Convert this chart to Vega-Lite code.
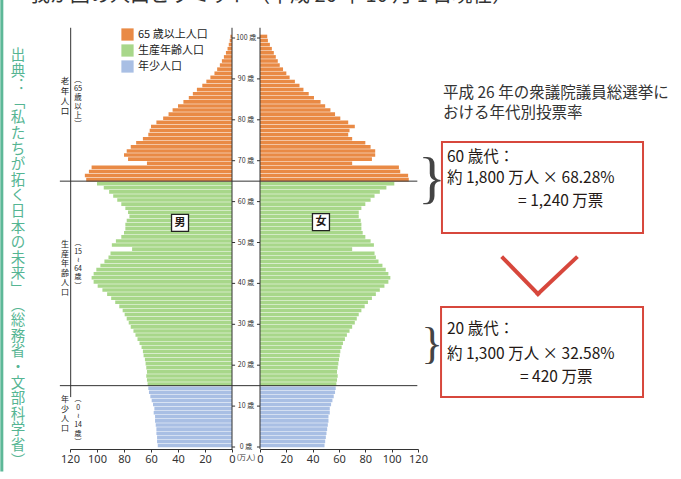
{
"$schema":"https://vega.github.io/schema/vega-lite/v6.json",
"width":681,"height":449,
"autosize":{"type":"none"},
"padding":{"left":0,"top":0,"right":0,"bottom":30},
"background":"white",
"config":{"view":{"stroke":null},"axisY":{"disable":true},"text":{"font":"Noto Sans CJK JP","color":"#231815"}},
"datasets":{
"male":[
{"a":0,"p":55,"g":"年少人口"},{"a":1,"p":55.5,"g":"年少人口"},{"a":2,"p":55.5,"g":"年少人口"},{"a":3,"p":56,"g":"年少人口"},{"a":4,"p":56,"g":"年少人口"},{"a":5,"p":56.5,"g":"年少人口"},{"a":6,"p":57,"g":"年少人口"},{"a":7,"p":57,"g":"年少人口"},{"a":8,"p":58,"g":"年少人口"},{"a":9,"p":57.5,"g":"年少人口"},{"a":10,"p":58.5,"g":"年少人口"},{"a":11,"p":59.5,"g":"年少人口"},{"a":12,"p":60.5,"g":"年少人口"},{"a":13,"p":61.5,"g":"年少人口"},{"a":14,"p":62,"g":"年少人口"},
{"a":15,"p":62.5,"g":"生産年齢人口"},{"a":16,"p":63,"g":"生産年齢人口"},{"a":17,"p":63.5,"g":"生産年齢人口"},{"a":18,"p":63,"g":"生産年齢人口"},{"a":19,"p":63.5,"g":"生産年齢人口"},{"a":20,"p":64,"g":"生産年齢人口"},{"a":21,"p":64.5,"g":"生産年齢人口"},{"a":22,"p":65.5,"g":"生産年齢人口"},{"a":23,"p":66,"g":"生産年齢人口"},{"a":24,"p":67,"g":"生産年齢人口"},{"a":25,"p":68.5,"g":"生産年齢人口"},{"a":26,"p":70,"g":"生産年齢人口"},{"a":27,"p":71.5,"g":"生産年齢人口"},{"a":28,"p":73,"g":"生産年齢人口"},{"a":29,"p":75,"g":"生産年齢人口"},
{"a":30,"p":76.5,"g":"生産年齢人口"},{"a":31,"p":78,"g":"生産年齢人口"},{"a":32,"p":79.5,"g":"生産年齢人口"},{"a":33,"p":81,"g":"生産年齢人口"},{"a":34,"p":83.5,"g":"生産年齢人口"},{"a":35,"p":86.5,"g":"生産年齢人口"},{"a":36,"p":89.5,"g":"生産年齢人口"},{"a":37,"p":92.5,"g":"生産年齢人口"},{"a":38,"p":96,"g":"生産年齢人口"},{"a":39,"p":99.5,"g":"生産年齢人口"},{"a":40,"p":102.5,"g":"生産年齢人口"},{"a":41,"p":104,"g":"生産年齢人口"},{"a":42,"p":102.5,"g":"生産年齢人口"},{"a":43,"p":100.5,"g":"生産年齢人口"},{"a":44,"p":97.5,"g":"生産年齢人口"},{"a":45,"p":94.5,"g":"生産年齢人口"},{"a":46,"p":91.5,"g":"生産年齢人口"},{"a":47,"p":90,"g":"生産年齢人口"},{"a":48,"p":74,"g":"生産年齢人口"},{"a":49,"p":89,"g":"生産年齢人口"},
{"a":50,"p":86,"g":"生産年齢人口"},{"a":51,"p":82,"g":"生産年齢人口"},{"a":52,"p":80,"g":"生産年齢人口"},{"a":53,"p":79,"g":"生産年齢人口"},{"a":54,"p":79,"g":"生産年齢人口"},{"a":55,"p":78,"g":"生産年齢人口"},{"a":56,"p":76,"g":"生産年齢人口"},{"a":57,"p":77,"g":"生産年齢人口"},{"a":58,"p":79,"g":"生産年齢人口"},{"a":59,"p":82,"g":"生産年齢人口"},{"a":60,"p":85,"g":"生産年齢人口"},{"a":61,"p":88,"g":"生産年齢人口"},{"a":62,"p":91,"g":"生産年齢人口"},{"a":63,"p":95,"g":"生産年齢人口"},{"a":64,"p":100,"g":"生産年齢人口"},
{"a":65,"p":108,"g":"65 歳以上人口"},{"a":66,"p":109,"g":"65 歳以上人口"},{"a":67,"p":106,"g":"65 歳以上人口"},{"a":68,"p":104,"g":"65 歳以上人口"},{"a":69,"p":63,"g":"65 歳以上人口"},{"a":70,"p":77,"g":"65 歳以上人口"},{"a":71,"p":80,"g":"65 歳以上人口"},{"a":72,"p":78,"g":"65 歳以上人口"},{"a":73,"p":75,"g":"65 歳以上人口"},{"a":74,"p":71,"g":"65 歳以上人口"},{"a":75,"p":66,"g":"65 歳以上人口"},{"a":76,"p":62,"g":"65 歳以上人口"},{"a":77,"p":61,"g":"65 歳以上人口"},{"a":78,"p":60,"g":"65 歳以上人口"},{"a":79,"p":56,"g":"65 歳以上人口"},
{"a":80,"p":51,"g":"65 歳以上人口"},{"a":81,"p":47,"g":"65 歳以上人口"},{"a":82,"p":44,"g":"65 歳以上人口"},{"a":83,"p":40,"g":"65 歳以上人口"},{"a":84,"p":36,"g":"65 歳以上人口"},{"a":85,"p":32,"g":"65 歳以上人口"},{"a":86,"p":29,"g":"65 歳以上人口"},{"a":87,"p":26,"g":"65 歳以上人口"},{"a":88,"p":22,"g":"65 歳以上人口"},{"a":89,"p":19,"g":"65 歳以上人口"},{"a":90,"p":16,"g":"65 歳以上人口"},{"a":91,"p":13,"g":"65 歳以上人口"},{"a":92,"p":11,"g":"65 歳以上人口"},{"a":93,"p":9,"g":"65 歳以上人口"},{"a":94,"p":7.5,"g":"65 歳以上人口"},{"a":95,"p":6,"g":"65 歳以上人口"},{"a":96,"p":4.5,"g":"65 歳以上人口"},{"a":97,"p":3.3,"g":"65 歳以上人口"},{"a":98,"p":2.4,"g":"65 歳以上人口"},{"a":99,"p":1.7,"g":"65 歳以上人口"},{"a":100,"p":1.2,"g":"65 歳以上人口"}
],
"female":[
{"a":0,"p":49,"g":"年少人口"},{"a":1,"p":49.5,"g":"年少人口"},{"a":2,"p":50,"g":"年少人口"},{"a":3,"p":50.5,"g":"年少人口"},{"a":4,"p":51,"g":"年少人口"},{"a":5,"p":51.5,"g":"年少人口"},{"a":6,"p":52,"g":"年少人口"},{"a":7,"p":52,"g":"年少人口"},{"a":8,"p":53,"g":"年少人口"},{"a":9,"p":53,"g":"年少人口"},{"a":10,"p":54,"g":"年少人口"},{"a":11,"p":55,"g":"年少人口"},{"a":12,"p":56,"g":"年少人口"},{"a":13,"p":57,"g":"年少人口"},{"a":14,"p":57.5,"g":"年少人口"},
{"a":15,"p":58,"g":"生産年齢人口"},{"a":16,"p":58.5,"g":"生産年齢人口"},{"a":17,"p":59,"g":"生産年齢人口"},{"a":18,"p":58.5,"g":"生産年齢人口"},{"a":19,"p":59,"g":"生産年齢人口"},{"a":20,"p":59.5,"g":"生産年齢人口"},{"a":21,"p":60,"g":"生産年齢人口"},{"a":22,"p":60.5,"g":"生産年齢人口"},{"a":23,"p":61,"g":"生産年齢人口"},{"a":24,"p":62,"g":"生産年齢人口"},{"a":25,"p":63,"g":"生産年齢人口"},{"a":26,"p":64.5,"g":"生産年齢人口"},{"a":27,"p":66,"g":"生産年齢人口"},{"a":28,"p":68,"g":"生産年齢人口"},{"a":29,"p":70,"g":"生産年齢人口"},
{"a":30,"p":72,"g":"生産年齢人口"},{"a":31,"p":73.5,"g":"生産年齢人口"},{"a":32,"p":75,"g":"生産年齢人口"},{"a":33,"p":77,"g":"生産年齢人口"},{"a":34,"p":79.5,"g":"生産年齢人口"},{"a":35,"p":82,"g":"生産年齢人口"},{"a":36,"p":85,"g":"生産年齢人口"},{"a":37,"p":88,"g":"生産年齢人口"},{"a":38,"p":91,"g":"生産年齢人口"},{"a":39,"p":94.5,"g":"生産年齢人口"},{"a":40,"p":97.5,"g":"生産年齢人口"},{"a":41,"p":99,"g":"生産年齢人口"},{"a":42,"p":97.5,"g":"生産年齢人口"},{"a":43,"p":95.5,"g":"生産年齢人口"},{"a":44,"p":93,"g":"生産年齢人口"},{"a":45,"p":90,"g":"生産年齢人口"},{"a":46,"p":88,"g":"生産年齢人口"},{"a":47,"p":87,"g":"生産年齢人口"},{"a":48,"p":70,"g":"生産年齢人口"},{"a":49,"p":86.5,"g":"生産年齢人口"},
{"a":50,"p":84,"g":"生産年齢人口"},{"a":51,"p":80,"g":"生産年齢人口"},{"a":52,"p":78,"g":"生産年齢人口"},{"a":53,"p":77,"g":"生産年齢人口"},{"a":54,"p":77,"g":"生産年齢人口"},{"a":55,"p":76.5,"g":"生産年齢人口"},{"a":56,"p":75,"g":"生産年齢人口"},{"a":57,"p":75,"g":"生産年齢人口"},{"a":58,"p":77,"g":"生産年齢人口"},{"a":59,"p":80,"g":"生産年齢人口"},{"a":60,"p":84,"g":"生産年齢人口"},{"a":61,"p":87,"g":"生産年齢人口"},{"a":62,"p":91,"g":"生産年齢人口"},{"a":63,"p":96,"g":"生産年齢人口"},{"a":64,"p":102,"g":"生産年齢人口"},
{"a":65,"p":113,"g":"65 歳以上人口"},{"a":66,"p":112.5,"g":"65 歳以上人口"},{"a":67,"p":106.5,"g":"65 歳以上人口"},{"a":68,"p":105.5,"g":"65 歳以上人口"},{"a":69,"p":70,"g":"65 歳以上人口"},{"a":70,"p":85,"g":"65 歳以上人口"},{"a":71,"p":87.5,"g":"65 歳以上人口"},{"a":72,"p":87.5,"g":"65 歳以上人口"},{"a":73,"p":84,"g":"65 歳以上人口"},{"a":74,"p":80,"g":"65 歳以上人口"},{"a":75,"p":70,"g":"65 歳以上人口"},{"a":76,"p":67,"g":"65 歳以上人口"},{"a":77,"p":68,"g":"65 歳以上人口"},{"a":78,"p":72,"g":"65 歳以上人口"},{"a":79,"p":67,"g":"65 歳以上人口"},
{"a":80,"p":61,"g":"65 歳以上人口"},{"a":81,"p":57,"g":"65 歳以上人口"},{"a":82,"p":53.5,"g":"65 歳以上人口"},{"a":83,"p":49.5,"g":"65 歳以上人口"},{"a":84,"p":46,"g":"65 歳以上人口"},{"a":85,"p":41,"g":"65 歳以上人口"},{"a":86,"p":37,"g":"65 歳以上人口"},{"a":87,"p":33,"g":"65 歳以上人口"},{"a":88,"p":30,"g":"65 歳以上人口"},{"a":89,"p":26.5,"g":"65 歳以上人口"},{"a":90,"p":22.5,"g":"65 歳以上人口"},{"a":91,"p":20,"g":"65 歳以上人口"},{"a":92,"p":17.5,"g":"65 歳以上人口"},{"a":93,"p":15,"g":"65 歳以上人口"},{"a":94,"p":13.5,"g":"65 歳以上人口"},{"a":95,"p":12,"g":"65 歳以上人口"},{"a":96,"p":10.5,"g":"65 歳以上人口"},{"a":97,"p":9,"g":"65 歳以上人口"},{"a":98,"p":7.5,"g":"65 歳以上人口"},{"a":99,"p":6,"g":"65 歳以上人口"},{"a":100,"p":5.5,"g":"65 歳以上人口"}
],
"ticks":[{"a":0,"lab":"0 歳"},{"a":10,"lab":"10 歳"},{"a":20,"lab":"20 歳"},{"a":30,"lab":"30 歳"},{"a":40,"lab":"40 歳"},{"a":50,"lab":"50 歳"},{"a":60,"lab":"60 歳"},{"a":70,"lab":"70 歳"},{"a":80,"lab":"80 歳"},{"a":90,"lab":"90 歳"},{"a":100,"lab":"100 歳"}],
"one":[{"k":1}]
},
"resolve":{"scale":{"x":"independent"},"axis":{"x":"independent"}},
"layer":[
{
"layer":[
{"data":{"name":"male"},"mark":{"type":"bar","binSpacing":0.5},
 "encoding":{
  "y":{"field":"a","type":"quantitative","bin":{"binned":true,"step":1},"scale":{"domain":[0,100],"range":[447,38],"nice":false,"zero":false},"axis":null},
  "x":{"field":"p","type":"quantitative","scale":{"domain":[0,120],"range":[232,70],"nice":false,"zero":true},
   "axis":{"orient":"bottom","title":null,"values":[0,20,40,60,80,100,120],"grid":false,"labelFlush":false,"tickSize":3,"labelPadding":1,"labelFontSize":11,"labelFont":"Liberation Sans Narrow, Noto Sans","labelColor":"#333","tickColor":"#333","domainColor":"#333"}},
  "color":{"field":"g","type":"nominal","scale":{"domain":["65 歳以上人口","生産年齢人口","年少人口"],"range":["#E98A45","#A8D78A","#A9BFE4"]},
   "legend":{"orient":"none","legendX":121,"legendY":28,"title":null,"symbolType":"square","symbolSize":150,"symbolStrokeWidth":0,"symbolOpacity":1,"labelFontSize":11,"labelFont":"Noto Sans CJK JP","labelColor":"#222","rowPadding":3,"padding":0,"labelOffset":4}}
 }},
{"data":{"name":"one"},"mark":{"type":"rule","stroke":"#333","strokeWidth":1},"encoding":{"x":{"datum":0},"y":{"datum":102.5},"y2":{"datum":-0.5}}},
{"data":{"name":"ticks"},"mark":{"type":"rule","stroke":"#333","strokeWidth":1},"encoding":{"x":{"datum":0},"x2":{"datum":-2.3},"y":{"field":"a","type":"quantitative"}}},
{"data":{"name":"one"},"mark":{"type":"rule","stroke":"#333","strokeWidth":1},"encoding":{"x":{"datum":119.5},"y":{"datum":102.5},"y2":{"datum":12.2}}},
{"data":{"name":"one"},"mark":{"type":"rule","stroke":"#5DB898","strokeWidth":3},"encoding":{"x":{"datum":170.5},"y":{"datum":109.5},"y2":{"datum":-6}}},
{"data":{"values":[{"t":"男"}]},"mark":{"type":"point","shape":"square","size":289,"filled":true,"fill":"white","stroke":"#222","strokeWidth":1.3,"opacity":1},"encoding":{"x":{"datum":38.5},"y":{"datum":54.8}}},
{"data":{"values":[{"t":"男"}]},"mark":{"type":"text","fontSize":11,"fontWeight":"bold","baseline":"middle","align":"center"},"encoding":{"x":{"datum":38.5},"y":{"datum":54.8},"text":{"field":"t"}}},
{"data":{"values":[{"t":"老\n年\n人\n口"}]},"mark":{"type":"text","fontSize":8.5,"lineBreak":"\n","lineHeight":10,"baseline":"middle","align":"center","color":"#222"},"encoding":{"x":{"datum":123.7},"y":{"datum":89.5},"text":{"field":"t"}}},
{"data":{"values":[{"t":"︵\n65\n歳\n以\n上\n︶"}]},"mark":{"type":"text","fontSize":7.5,"lineBreak":"\n","lineHeight":9,"baseline":"middle","align":"center","color":"#222"},"encoding":{"x":{"datum":114},"y":{"datum":89.7},"text":{"field":"t"}}},
{"data":{"values":[{"t":"生\n産\n年\n齢\n人\n口"}]},"mark":{"type":"text","fontSize":8,"lineBreak":"\n","lineHeight":9.6,"baseline":"middle","align":"center","color":"#222"},"encoding":{"x":{"datum":123.7},"y":{"datum":49.4},"text":{"field":"t"}}},
{"data":{"values":[{"t":"︵\n15\n≀\n64\n歳\n︶"}]},"mark":{"type":"text","fontSize":7,"lineBreak":"\n","lineHeight":8.6,"baseline":"middle","align":"center","color":"#222"},"encoding":{"x":{"datum":114},"y":{"datum":49.9},"text":{"field":"t"}}},
{"data":{"values":[{"t":"年\n少\n人\n口"}]},"mark":{"type":"text","fontSize":8,"lineBreak":"\n","lineHeight":9.6,"baseline":"middle","align":"center","color":"#222"},"encoding":{"x":{"datum":123.7},"y":{"datum":11.5},"text":{"field":"t"}}},
{"data":{"values":[{"t":"︵\n0\n≀\n14\n歳\n︶"}]},"mark":{"type":"text","fontSize":7,"lineBreak":"\n","lineHeight":8.6,"baseline":"middle","align":"center","color":"#222"},"encoding":{"x":{"datum":114},"y":{"datum":11.7},"text":{"field":"t"}}},
{"data":{"values":[{"t":"出\n典\n︓\n﹁\n私\nた\nち\nが\n拓\nく\n日\n本\nの\n未\n来\n﹂\n︵\n総\n務\n省\n・\n文\n部\n科\n学\n省\n︶"}]},"mark":{"type":"text","fontSize":14.5,"lineBreak":"\n","lineHeight":15.6,"baseline":"middle","align":"center","color":"#55B593"},"encoding":{"x":{"datum":158.5},"y":{"datum":95.6},"text":{"field":"t"}}}
]
},
{
"layer":[
{"data":{"name":"female"},"mark":{"type":"bar","binSpacing":0.5},
 "encoding":{
  "y":{"field":"a","type":"quantitative","bin":{"binned":true,"step":1},"axis":null},
  "x":{"field":"p","type":"quantitative","scale":{"domain":[0,120],"range":[260,418],"nice":false,"zero":true},
   "axis":{"orient":"bottom","title":null,"values":[0,20,40,60,80,100,120],"grid":false,"labelFlush":false,"tickSize":3,"labelPadding":1,"labelFontSize":11,"labelFont":"Liberation Sans Narrow, Noto Sans","labelColor":"#333","tickColor":"#333","domainColor":"#333"}},
  "color":{"field":"g","type":"nominal",
   "legend":{"orient":"none","legendX":121,"legendY":28,"title":null,"symbolType":"square","symbolSize":150,"symbolStrokeWidth":0,"symbolOpacity":1,"labelFontSize":11,"labelFont":"Noto Sans CJK JP","labelColor":"#222","rowPadding":3,"padding":0,"labelOffset":4}}
 }},
{"data":{"name":"one"},"mark":{"type":"rule","stroke":"#333","strokeWidth":1},"encoding":{"x":{"datum":0},"y":{"datum":102.5},"y2":{"datum":-0.5}}},
{"data":{"name":"ticks"},"mark":{"type":"rule","stroke":"#333","strokeWidth":1},"encoding":{"x":{"datum":0},"x2":{"datum":-2.3},"y":{"field":"a","type":"quantitative"}}},
{"data":{"name":"ticks"},"mark":{"type":"text","fontSize":7,"baseline":"middle","align":"center","color":"#333"},"encoding":{"x":{"datum":-10.6},"y":{"field":"a","type":"quantitative"},"text":{"field":"lab"}}},
{"data":{"values":[{"a":65},{"a":15}]},"mark":{"type":"rule","stroke":"#333","strokeWidth":1},"encoding":{"x":{"datum":-152},"x2":{"datum":119.5},"y":{"field":"a","type":"quantitative"}}},
{"data":{"values":[{"t":"(万人)"}]},"mark":{"type":"text","fontSize":7,"baseline":"middle","align":"center","color":"#333"},"encoding":{"x":{"datum":-10.6},"y":{"datum":-2.7},"text":{"field":"t"}}},
{"data":{"values":[{"t":"我が国の人口ピラミッド（平成 26 年 10 月 1 日現在）"}]},"mark":{"type":"text","fontSize":20,"baseline":"alphabetic","align":"left","color":"#333"},"encoding":{"x":{"datum":-174.7},"y":{"datum":108.8},"text":{"field":"t"}}},
{"data":{"values":[{"t":"女"}]},"mark":{"type":"point","shape":"square","size":289,"filled":true,"fill":"white","stroke":"#222","strokeWidth":1.3,"opacity":1},"encoding":{"x":{"datum":46.3},"y":{"datum":55}}},
{"data":{"values":[{"t":"女"}]},"mark":{"type":"text","fontSize":11,"fontWeight":"bold","baseline":"middle","align":"center"},"encoding":{"x":{"datum":46.3},"y":{"datum":55},"text":{"field":"t"}}},
{"data":{"values":[{"t":"平成 26 年の衆議院議員総選挙に\nおける年代別投票率"}]},"mark":{"type":"text","fontSize":15.5,"lineBreak":"\n","lineHeight":20,"baseline":"middle","align":"left","color":"#333"},"encoding":{"x":{"datum":139},"y":{"datum":86.55},"text":{"field":"t"}}},
{"data":{"name":"one"},"mark":{"type":"rect","fill":"transparent","stroke":"#D7473C","strokeWidth":2},"encoding":{"x":{"datum":138.2},"x2":{"datum":290.9},"y":{"datum":74.57},"y2":{"datum":52.32}}},
{"data":{"name":"one"},"mark":{"type":"rect","fill":"transparent","stroke":"#D7473C","strokeWidth":2},"encoding":{"x":{"datum":137.5},"x2":{"datum":290.9},"y":{"datum":34.23},"y2":{"datum":12.22}}},
{"data":{"name":"one"},"mark":{"type":"rule","stroke":"#D7473C","strokeWidth":4,"strokeCap":"square"},"encoding":{"x":{"datum":184.6},"y":{"datum":46.2},"x2":{"datum":211.1},"y2":{"datum":37.4}}},
{"data":{"name":"one"},"mark":{"type":"rule","stroke":"#D7473C","strokeWidth":4,"strokeCap":"square"},"encoding":{"x":{"datum":211.1},"y":{"datum":37.4},"x2":{"datum":240},"y2":{"datum":46.2}}},
{"data":{"values":[{"t":"}"}]},"mark":{"type":"text","fontSize":58,"font":"Liberation Serif","baseline":"middle","align":"center","color":"#444"},"encoding":{"x":{"datum":130.6},"y":{"datum":65.3},"text":{"field":"t"}}},
{"data":{"values":[{"t":"}"}]},"mark":{"type":"text","fontSize":45,"font":"Liberation Serif","baseline":"middle","align":"center","color":"#444"},"encoding":{"x":{"datum":130.6},"y":{"datum":25.2},"text":{"field":"t"}}},
{"data":{"values":[{"t":"60 歳代："}]},"mark":{"type":"text","fontSize":15.5,"baseline":"middle","align":"left"},"encoding":{"x":{"datum":142},"y":{"datum":70.9},"text":{"field":"t"}}},
{"data":{"values":[{"t":"約 1,800 万人 × 68.28%"}]},"mark":{"type":"text","fontSize":15.5,"baseline":"middle","align":"left"},"encoding":{"x":{"datum":142},"y":{"datum":65.7},"text":{"field":"t"}}},
{"data":{"values":[{"t":"= 1,240 万票"}]},"mark":{"type":"text","fontSize":15.5,"baseline":"middle","align":"left"},"encoding":{"x":{"datum":196},"y":{"datum":60.2},"text":{"field":"t"}}},
{"data":{"values":[{"t":"20 歳代："}]},"mark":{"type":"text","fontSize":15.5,"baseline":"middle","align":"left"},"encoding":{"x":{"datum":142},"y":{"datum":28.8},"text":{"field":"t"}}},
{"data":{"values":[{"t":"約 1,300 万人 × 32.58%"}]},"mark":{"type":"text","fontSize":15.5,"baseline":"middle","align":"left"},"encoding":{"x":{"datum":142},"y":{"datum":22.7},"text":{"field":"t"}}},
{"data":{"values":[{"t":"= 420 万票"}]},"mark":{"type":"text","fontSize":15.5,"baseline":"middle","align":"left"},"encoding":{"x":{"datum":197.5},"y":{"datum":17.1},"text":{"field":"t"}}}
]
}
]
}
